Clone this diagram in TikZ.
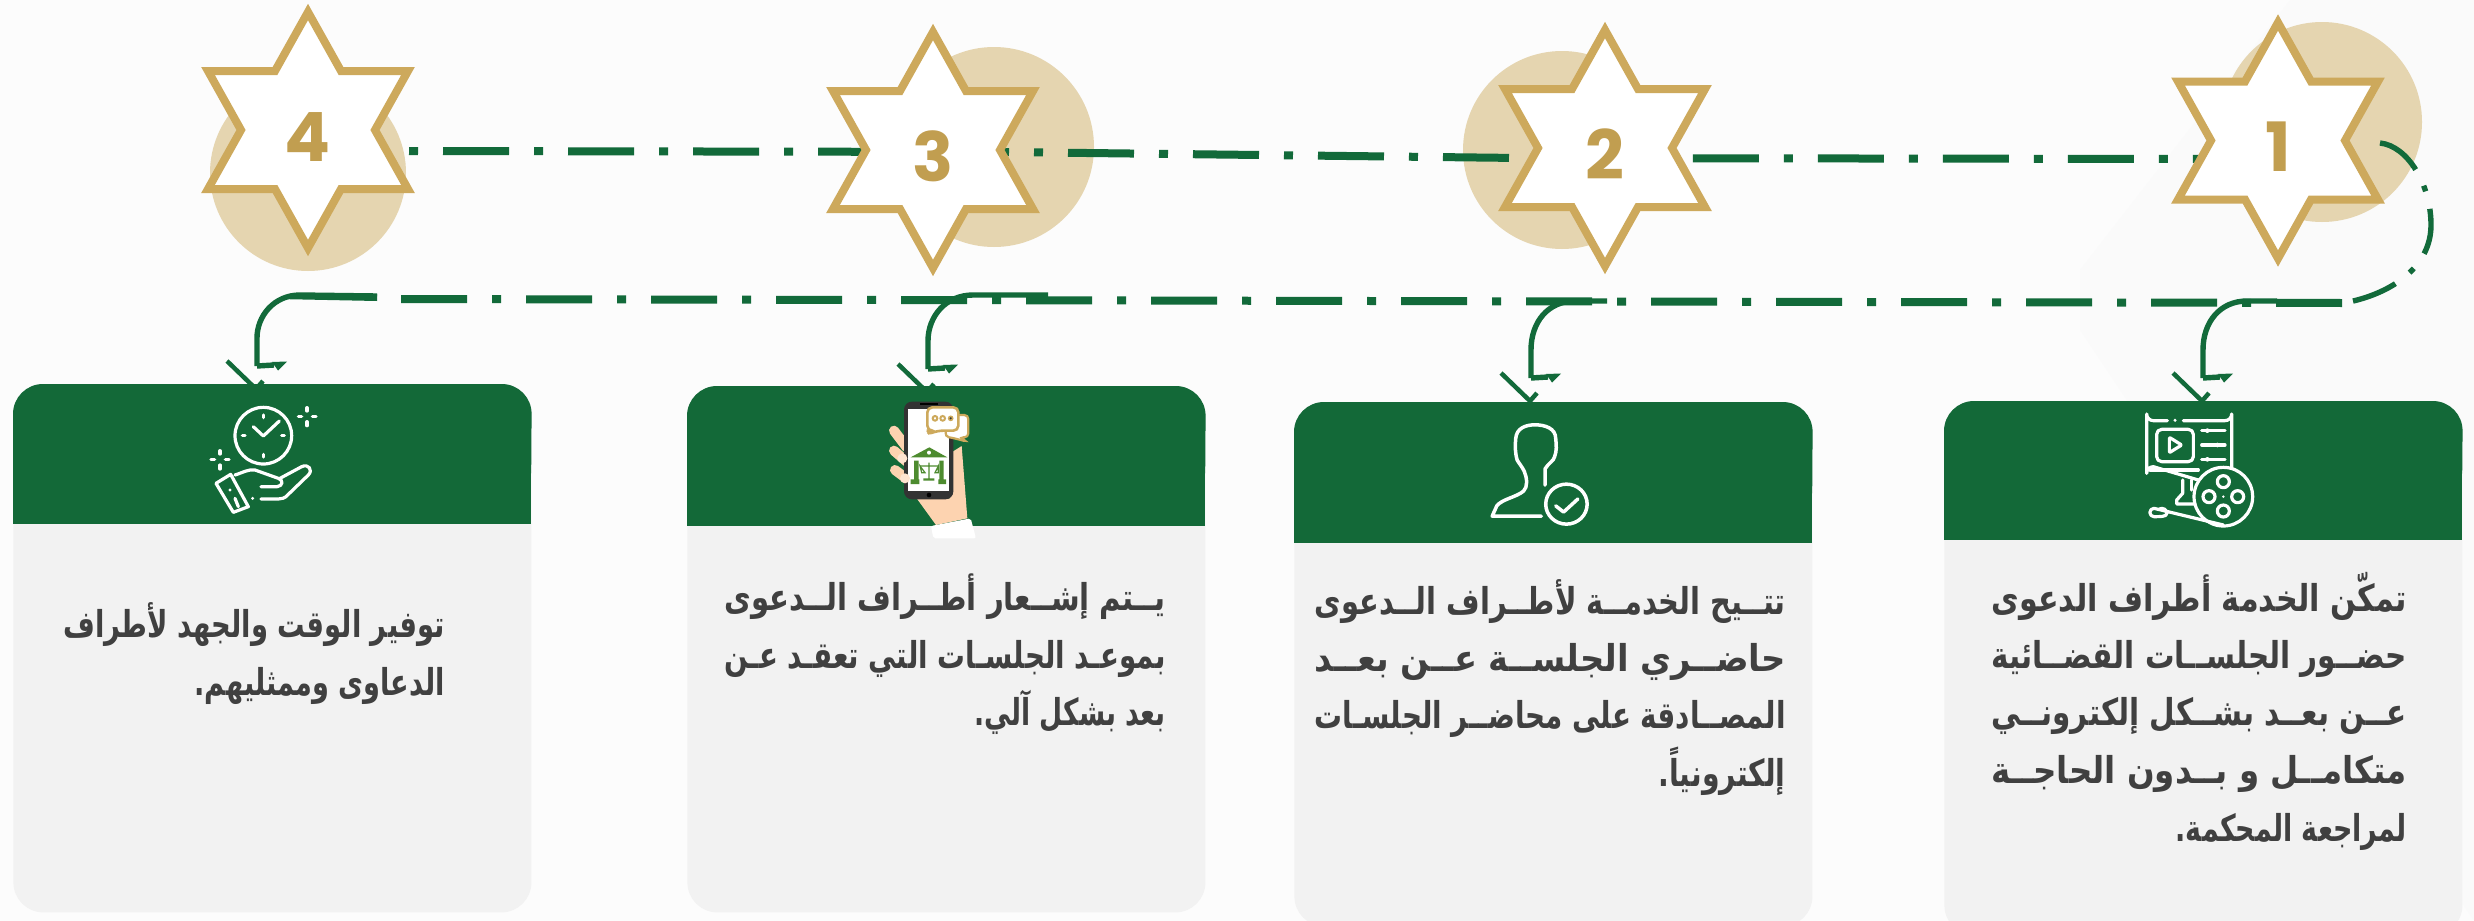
\documentclass[tikz,border=0pt]{standalone}
\usepackage{fontspec}
\usepackage{graphicx}
\TeXXeTstate=1
\newfontfamily\arabicfont[Script=Arabic]{DejaVu Sans}
\newfontfamily\digitfont{Poppins}
\definecolor{hdr}{HTML}{136938}
\definecolor{lin}{HTML}{126A3A}
\definecolor{cardg}{HTML}{F2F2F2}
\definecolor{gold}{HTML}{CDA95C}
\definecolor{goldd}{HTML}{C19E50}
\definecolor{disc}{HTML}{E5D5B0}
\definecolor{txt}{HTML}{404040}
\definecolor{skin}{HTML}{FDD3B0}
\definecolor{court}{HTML}{4D8B2F}
\newcommand{\arln}[2]{\resizebox{#1pt}{\height}{\fontsize{18.5}{20}\arabicfont\bfseries #2}}
\tikzset{
  x=0.5pt,y=-0.5pt,
  arline/.style={anchor=base east,inner sep=0pt,text=txt},
  cardbody/.style={anchor=north west,fill=cardg,rounded corners=15pt,minimum width=259pt,inner sep=0pt,draw=none},
  header/.style={fill=hdr},
  digit/.style={anchor=base,inner sep=0pt,text=goldd,font=\digitfont\bfseries\fontsize{34}{36}\selectfont},
  flowdash/.style={draw=lin,line width=4pt,dash pattern=on 33pt off 12.5pt on 4.5pt off 12.5pt},
  conn/.style={draw=lin,line width=2.7pt},
  icon/.style={draw=white,line width=1.6pt,line cap=round,line join=round},
  sixstar/.pic={
    \path[draw=gold,fill=white,line width=4pt,miter limit=10]
      (0,-118)--(33,-59)--(100,-59)--(67,0)--(100,59)--(33,59)--(0,118)--(-33,59)--(-100,59)--(-67,0)--(-100,-59)--(-33,-59)--cycle;
  },
  arrowbit/.pic={
    \draw[conn,line width=2.25pt] (-30,-5)--(-1,23)--(6,15);
    \draw[conn] (0,0)--(17,-1);
    \fill[lin] (15,-4)--(30,-4.5)--(21,4.5)--cycle;
  }
}
\begin{document}
\begin{tikzpicture}
\useasboundingbox (0,0) rectangle (2474,921);
\fill[white!99!black] (0,0) rectangle (2474,921);
\fill[black!2] (2474,0)--(2290,0)--(2080,270)--(2080,330)--(2474,921)--cycle;
% discs
\fill[disc] (2322,122) circle[radius=100];
\fill[disc] (1562,150) circle[radius=99];
\fill[disc] (994,147) circle[radius=100];
\fill[disc] (308,173) circle[radius=98];
% flow lines
\coordinate (u0) at (409,151);
\coordinate (u1) at (1000,152);
\coordinate (u2) at (1520,158);
\coordinate (u3) at (2200,159);
\draw[draw=lin,line width=4pt,dash pattern=on 4.5pt off 12.5pt on 33pt off 12.5pt] (u0)--(u1)--(u2)--(u3);
\coordinate (l0) at (2342,303);
\coordinate (l1) at (400,299);
\draw[flowdash] (l0)--(l1);
\coordinate (r0) at (2380,143);
\coordinate (r1) at (2431,225);
\coordinate (r2) at (2349,302);
\draw[conn,dash pattern=on 23pt off 9pt on 3pt off 9pt] (r0) .. controls (2408,146) and (2431,185) .. (r1) .. controls (2431,265) and (2395,292) .. (r2);
% stars
\pic at (2278,140.5) {sixstar};
\pic at (1605,148) {sixstar};
\pic at (933,150) {sixstar};
\pic at (308,130) {sixstar};
\node[digit] (s1) at (2278,171.5) {1};
\node[digit] (s2) at (1605,179) {2};
\node[digit] (s3) at (933,181) {3};
\node[digit] (s4) at (308,161) {4};
% branch arrows
\coordinate (b1) at (2277,301); \coordinate (a1) at (2203,378);
\coordinate (b2) at (1607,301); \coordinate (a2) at (1531,378);
\coordinate (b3) at (1048,295); \coordinate (a3) at (928,369);
\coordinate (b4) at (377,296); \coordinate (a4) at (257,366);
\draw[conn] (b1)--(2247,301) .. controls (2220,301) and (2203,322) .. (2203,350)--(a1);
\draw[conn] (b2)--(1575,301) .. controls (1548,301) and (1531,322) .. (1531,350)--(a2);
\draw[conn] (b3)--(973,295) .. controls (946,295) and (928,316) .. (928,341)--(a3);
\draw[conn] (b4)--(300,295) .. controls (274,295) and (257,316) .. (257,338)--(a4);
\fill[lin] (278,299)--(300,294)--(377,294)--(377,301)--cycle;
\pic at (a1) {arrowbit};
\pic at (a2) {arrowbit};
\pic at (a3) {arrowbit};
\pic at (a4) {arrowbit};
% cards
\node[cardbody,minimum height=267pt] (c1) at (1944,401) {};
\node[cardbody,minimum height=262pt] (c2) at (1294,402) {};
\node[cardbody,minimum height=263pt] (c3) at (687,386) {};
\node[cardbody,minimum height=264pt] (c4) at (13,384) {};
\fill[hdr] (1944,450) rectangle (2462,540);
\fill[header,rounded corners=15pt] (1944,500)--(c1.north west)--(c1.north east)--(2462,500)--cycle;
\fill[hdr] (1294,450) rectangle (1812,543);
\fill[header,rounded corners=15pt] (1294,520)--(c2.north west)--(c2.north east)--(1812,520)--cycle;
\fill[hdr] (687,440) rectangle (1205,526);
\fill[header,rounded corners=15pt] (687,500)--(c3.north west)--(c3.north east)--(1205,500)--cycle;
\fill[hdr] (13,440) rectangle (531,524);
\fill[header,rounded corners=15pt] (13,500)--(c4.north west)--(c4.north east)--(531,500)--cycle;
% icon 1
\begin{scope}[shift={(2130,410)},x=0.16667pt,y=-0.16667pt]
\draw[icon] (112,32)--(70,32) arc[start angle=90,end angle=180,radius=20]--(50,190) arc[start angle=180,end angle=270,radius=20]--(205,210);
\draw[icon] (160,32)--(285,32) arc[start angle=90,end angle=0,radius=20]--(305,175);
\fill[white] (135,31) circle[radius=5];
\draw[icon] (60,180)--(205,180);
\draw[icon,rounded corners=2.5pt] (80,58) rectangle (190,155);
\draw[icon,rounded corners=.5pt] (118,82)--(118,128)--(155,105)--cycle;
\draw[icon] (215,62)--(285,62) (215,105)--(285,105) (215,148)--(285,148);
\fill[white] (232,62) circle[radius=7] (262,105) circle[radius=7] (232,148) circle[radius=7];
\draw[icon] (158,210)--(158,250)--(140,270)--(140,282)--(195,282);
\draw[icon] (185,210)--(185,240);
\draw[icon] (280,260) circle[radius=88];
\draw[icon] (280,215) circle[radius=18] (280,303) circle[radius=18] (237,260) circle[radius=18] (323,260) circle[radius=18];
\fill[white] (280,260) circle[radius=4];
\draw[icon] (85,298) .. controls (100,290) and (112,300) .. (110,312) .. controls (108,320) and (90,320) .. (72,320) arc[start angle=90,end angle=270,radius=12.5]--(280,345);
\end{scope}
% icon 2
\begin{scope}[shift={(1270,380)},x=0.17857pt,y=-0.17241pt]
\draw[icon,line width=1.75pt] (770,305)--(770,258) .. controls (780,240) and (795,235) .. (797,222) .. controls (803,205) and (802,190) .. (800,170) .. controls (800,140) and (770,130) .. (742,130) .. controls (715,130) and (690,140) .. (688,170) .. controls (686,190) and (686,210) .. (692,232) .. controls (696,240) and (705,250) .. (712,265) .. controls (720,285) and (722,310) .. (710,322) .. controls (690,340) and (650,345) .. (635,365)--(622,395)--(760,395);
\draw[icon,line width=1.75pt] (830,360) circle[radius=58];
\draw[icon,line width=1.75pt] (800,365)--(822,383)--(862,345);
\end{scope}
% icon 3
\begin{scope}[shift={(870,390)},x=0.16667pt,y=-0.16667pt]
\fill[skin] (140,325)--(198,405)--(292,385)--(275,168)--(240,190)--(240,325)--cycle;
\draw[skin,line width=5pt,line cap=round] (72,122)--(110,172) (72,182)--(110,215) (75,240)--(118,272);
\fill[white,rounded corners=1pt] (183,408)--(302,385)--(318,445)--(190,445)--cycle;
\fill[black!80,rounded corners=4pt] (102,35) rectangle (250,328);
\fill[white] (115,58) rectangle (238,302);
\fill[black] (177,315) circle[radius=7];
\fill[black] (150,40) rectangle (205,46);
\fill[skin!60!white] (97,205) circle[radius=15] (105,265) circle[radius=15];
\fill[court] (122,202)--(178,172)--(232,202)--cycle;
\fill[white] (177,188) circle[radius=6];
\fill[court] (132,212) rectangle (146,268) (208,212) rectangle (221,268) (122,268) rectangle (148,282) (205,268) rectangle (228,282) (160,265) rectangle (193,272) (175,218) rectangle (179,265) (150,226) rectangle (205,230);
\draw[court,line width=.6pt] (150,228)--(155,248)--(165,248)--cycle (205,228)--(195,248)--(205,248)--cycle;
\draw[gold,fill=white,line width=1.1pt,rounded corners=2pt] (235,75)--(295,75)--(295,142)--(268,142)--(292,155)--(245,143)--(225,140)--cycle;
\draw[gold,fill=white,line width=1.3pt,rounded corners=2.5pt] (172,52)--(265,52)--(265,122)--(205,122)--(172,133)--(185,122)--(172,122)--cycle;
\draw[gold,line width=1pt] (195,85) circle[radius=7] (218,85) circle[radius=7];
\draw[gold,fill=black!80,line width=.8pt] (242,85) circle[radius=6];
\end{scope}
% icon 4
\begin{scope}[shift={(200,395)},x=0.16667pt,y=-0.16667pt]
\draw[icon] (190,122) circle[radius=85];
\draw[icon] (190,60)--(190,68) (190,178)--(190,186) (127,122)--(135,122) (245,122)--(253,122);
\draw[icon] (160,95)--(190,123)--(238,78);
\draw[icon] (321,38)--(321,48) (321,80)--(321,92) (295,64)--(305,64) (337,64)--(348,64);
\draw[icon] (60,167)--(60,177) (60,210)--(60,222) (33,194)--(44,194) (76,194)--(87,194);
\draw[icon] (48,265)--(92,238)--(145,335)--(100,352)--cycle;
\fill[white] (90,285) circle[radius=5] (158,310) circle[radius=5];
\draw[icon] (105,310)--(115,335);
\draw[icon] (105,240) .. controls (130,232) and (145,222) .. (165,225)--(235,250) .. controls (250,255) and (250,272) .. (232,275)--(183,275);
\draw[icon] (240,250)--(305,215) .. controls (325,205) and (340,225) .. (325,240)--(265,298) .. controls (255,310) and (245,312) .. (235,312)--(183,312);
\end{scope}
% texts
\node[arline] (t11) at (2407,611) {\arln{207.5}{\beginR تمكّن الخدمة أطراف الدعوى\endR}};
\node[arline] (t12) at (2407,668) {\arln{207.5}{\beginR حضــور الجلســات القضــائية\endR}};
\node[arline] (t13) at (2407,725) {\arln{207.5}{\beginR عــن بعــد بشــكل إلكترونــي\endR}};
\node[arline] (t14) at (2407,783) {\arln{207.5}{\beginR متكامــل و بــدون الحاجــة\endR}};
\node[arline] (t15) at (2407,841) {\arln{115.5}{\beginR لمراجعة المحكمة.\endR}};
\node[arline] (t21) at (1786,614) {\arln{235.5}{\beginR تتــيح الخدمــة لأطــراف الــدعوى\endR}};
\node[arline] (t22) at (1786,671) {\arln{235.5}{\beginR حاضــري الجلســة عــن بعــد\endR}};
\node[arline] (t23) at (1786,728) {\arln{235.5}{\beginR المصــادقة على محاضــر الجلسـات\endR}};
\node[arline] (t24) at (1786,786) {\arln{63.5}{\beginR إلكترونياً.\endR}};
\node[arline] (t31) at (1166,610) {\arln{220.5}{\beginR يــتم إشــعار أطــراف الــدعوى\endR}};
\node[arline] (t32) at (1166,668) {\arln{220.5}{\beginR بموعـد الجلسـات التي تعقـد عـن\endR}};
\node[arline] (t33) at (1166,725) {\arln{95.5}{\beginR بعد بشكل آلي.\endR}};
\node[arline] (t41) at (445,637) {\arln{190.5}{\beginR توفير الوقت والجهد لأطراف\endR}};
\node[arline] (t42) at (445,695) {\arln{125}{\beginR الدعاوى وممثليهم.\endR}};
\end{tikzpicture}
\end{document}
